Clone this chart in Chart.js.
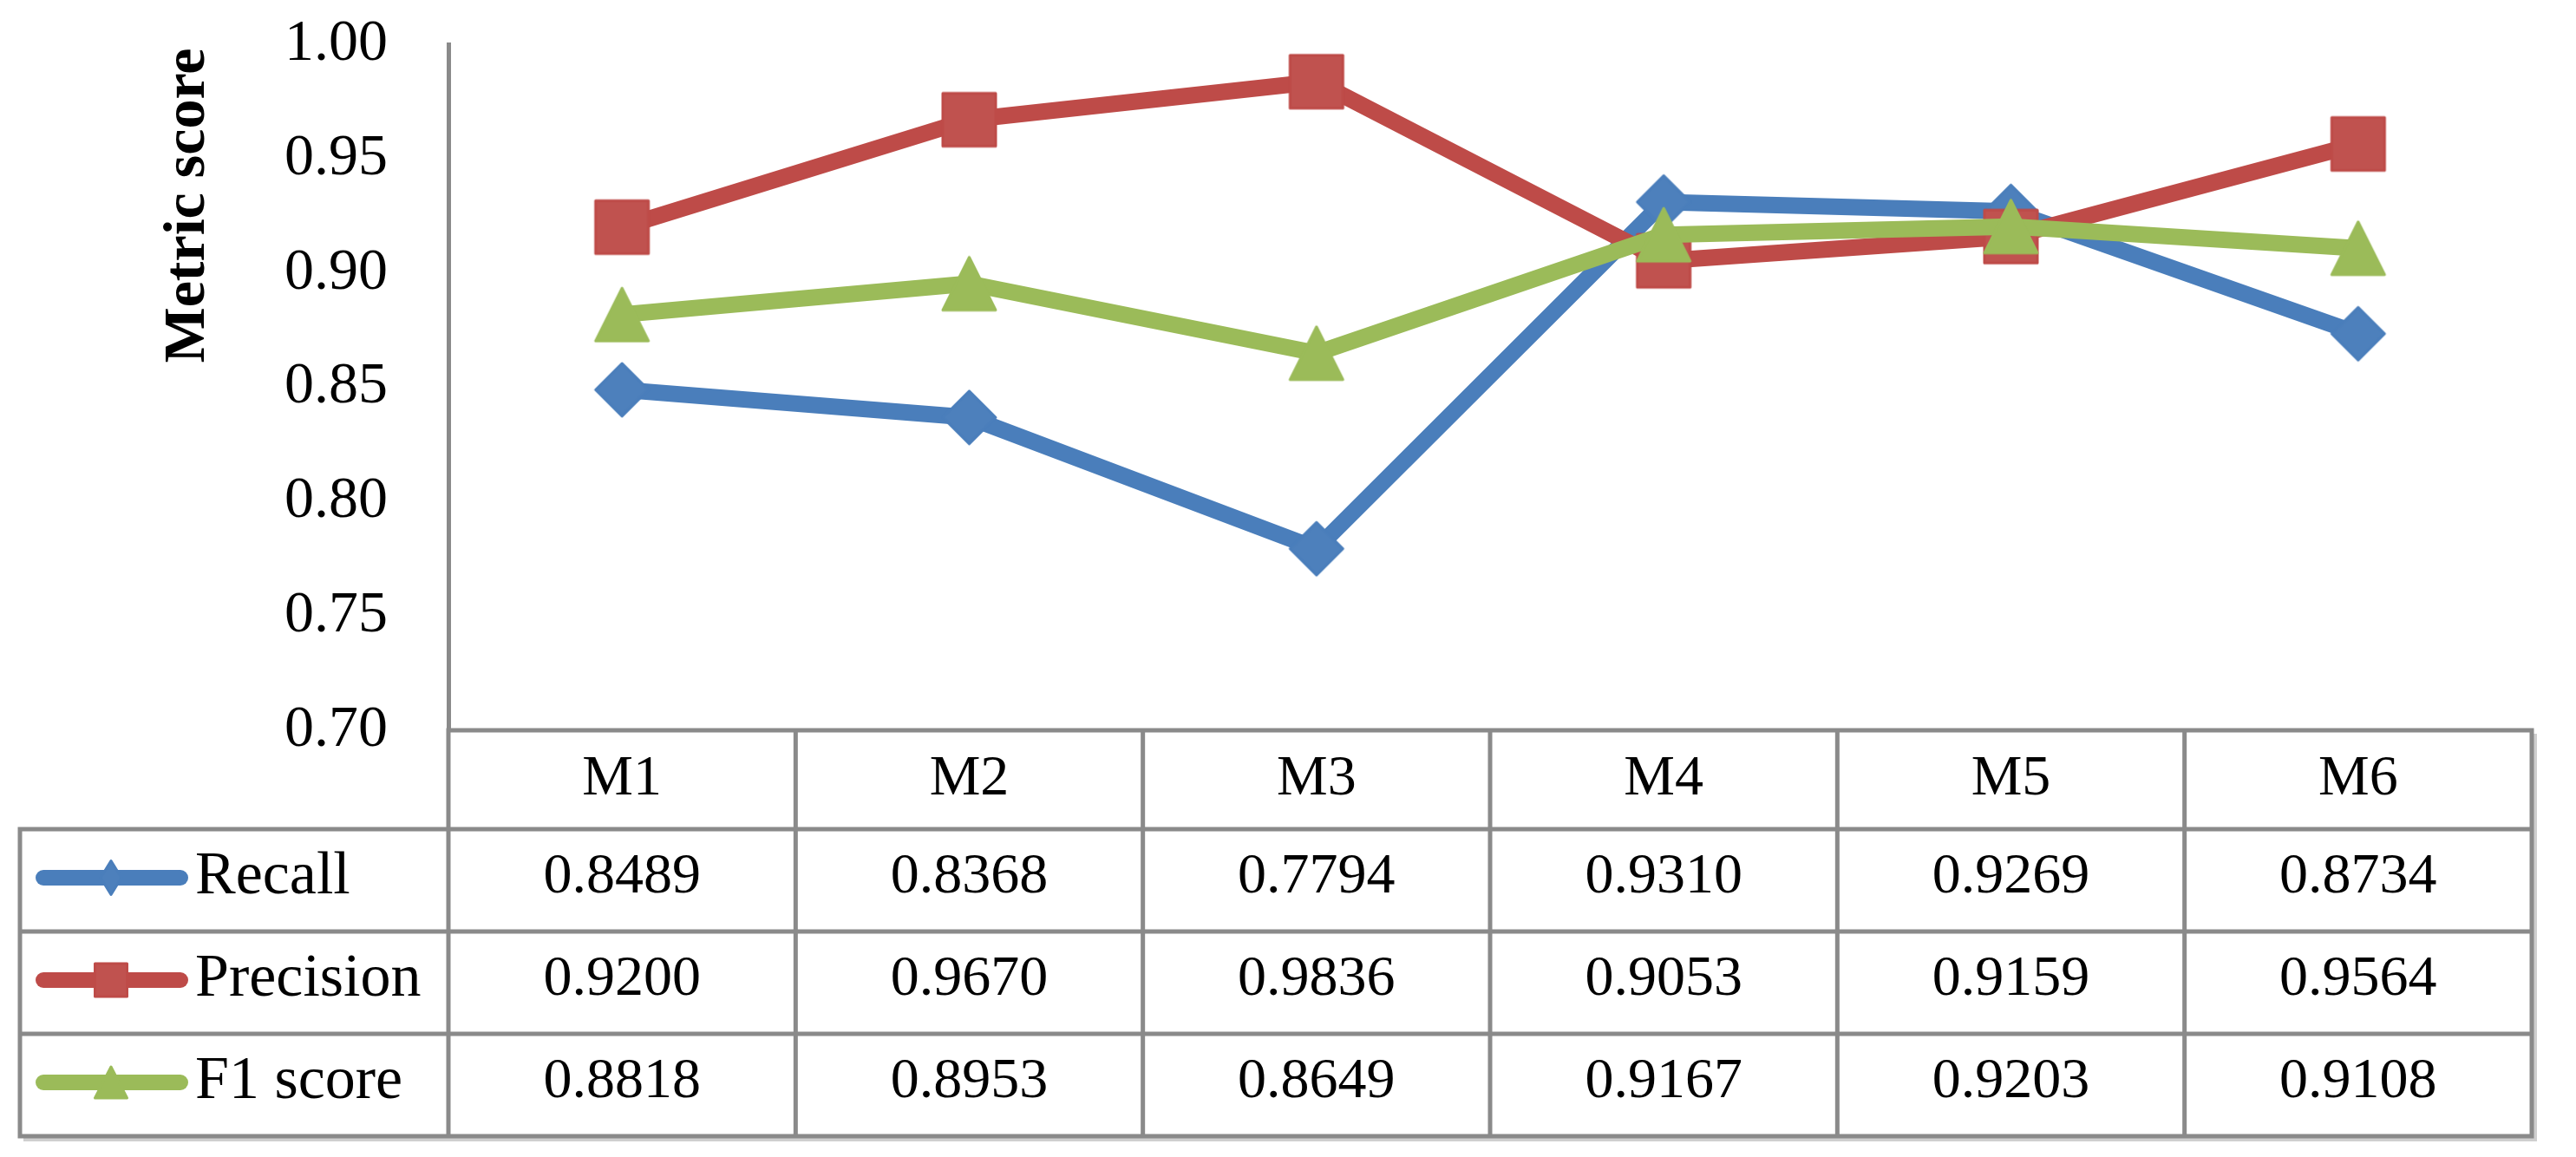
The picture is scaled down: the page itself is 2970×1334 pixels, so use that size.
<!DOCTYPE html>
<html>
<head>
<meta charset="utf-8">
<script src="https://cdn.jsdelivr.net/npm/chart.js@4.4.1/dist/chart.umd.min.js"></script>
<style>
  html, body { margin: 0; padding: 0; background: #fff; }
  #wrap { width: 2970px; height: 1334px; position: relative; }
</style>
</head>
<body>
<div id="wrap"><canvas id="chart"></canvas></div>
<script>
const categories = ['M1', 'M2', 'M3', 'M4', 'M5', 'M6'];
const seriesNames = ['Recall', 'Precision', 'F1 score'];
const recall = [0.8489, 0.8368, 0.7794, 0.9310, 0.9269, 0.8734];
const precision = [0.9200, 0.9670, 0.9836, 0.9053, 0.9159, 0.9564];
const f1Score = [0.8818, 0.8953, 0.8649, 0.9167, 0.9203, 0.9108];
const yMin = 0.70;
const yMax = 1.00;
const yStep = 0.05;
const yTitle = 'Metric score';

const seriesValues = [recall, precision, f1Score];
const colors = ['#4A7EBB', '#BE4B48', '#9BBB59'];
const markerFill = ['#4D80BC', '#C0524F', '#9BBB59'];
const markers = ['diamond', 'square', 'triangle'];
const FONT = "'Liberation Serif', 'Times New Roman', serif";
const GRID = '#8a8a8a';

// marker shapes (Excel style: triangle centred in its box)
function markerPath(ctx, kind, cx, cy, w, h) {
  ctx.beginPath();
  if (kind === 'diamond') {
    ctx.moveTo(cx, cy - h / 2);
    ctx.lineTo(cx + w / 2, cy);
    ctx.lineTo(cx, cy + h / 2);
    ctx.lineTo(cx - w / 2, cy);
  } else if (kind === 'triangle') {
    ctx.moveTo(cx, cy - h / 2);
    ctx.lineTo(cx + w / 2, cy + h / 2);
    ctx.lineTo(cx - w / 2, cy + h / 2);
  } else {
    ctx.rect(cx - w / 2, cy - h / 2, w, h);
  }
  ctx.closePath();
}

function drawMarker(ctx, kind, cx, cy, w, h, fill, stroke) {
  ctx.save();
  markerPath(ctx, kind, cx, cy, w, h);
  ctx.fillStyle = fill;
  ctx.fill();
  ctx.lineJoin = 'round';
  ctx.lineWidth = 3;
  ctx.strokeStyle = stroke;
  ctx.stroke();
  ctx.restore();
}

function markerImage(kind, w, h, fill, stroke) {
  const c = document.createElement('canvas');
  c.width = w + 6;
  c.height = h + 6;
  drawMarker(c.getContext('2d'), kind, c.width / 2, c.height / 2, w, h, fill, stroke);
  return c;
}

const pointSizes = { diamond: [61, 61], square: [61, 61], triangle: [61, 61] };
const legendSizes = { diamond: [24, 39], square: [37, 38], triangle: [37, 36] };

// y title + data table under the plot, columns taken from the x scale
const dataTable = {
  id: 'dataTable',
  afterDraw(chart) {
    const { ctx, chartArea, scales: { x } } = chart;
    const half = (x.getPixelForValue(1) - x.getPixelForValue(0)) / 2;
    const left = chartArea.left;
    const right = chartArea.right;
    const top = chartArea.bottom;
    const headH = 114;
    const rowH = 118;
    const tableLeft = 23;
    const rowsTop = top + headH;
    const bottom = rowsTop + rowH * seriesNames.length;

    ctx.save();

    // y axis title
    ctx.save();
    ctx.translate(217, 237);
    ctx.rotate(-Math.PI / 2);
    ctx.font = 'bold 68px ' + FONT;
    ctx.fillStyle = '#000';
    ctx.textAlign = 'center';
    ctx.textBaseline = 'middle';
    ctx.fillText(yTitle, 0, 0);
    ctx.restore();

    // faint drop shadow on right / bottom edge
    ctx.strokeStyle = '#cfcfcf';
    ctx.lineWidth = 4;
    ctx.beginPath();
    ctx.moveTo(right + 4, top + 4);
    ctx.lineTo(right + 4, bottom + 4);
    ctx.lineTo(tableLeft + 4, bottom + 4);
    ctx.stroke();

    // grid lines
    ctx.strokeStyle = GRID;
    ctx.lineWidth = 5;
    ctx.lineCap = 'square';
    ctx.beginPath();
    ctx.moveTo(left, top);
    ctx.lineTo(right, top);
    for (let r = 0; r <= seriesNames.length; r++) {
      const y = rowsTop + rowH * r;
      ctx.moveTo(tableLeft, y);
      ctx.lineTo(right, y);
    }
    ctx.moveTo(tableLeft, rowsTop);
    ctx.lineTo(tableLeft, bottom);
    for (let i = 0; i < categories.length; i++) {
      const xl = x.getPixelForValue(i) - half;
      ctx.moveTo(xl, top);
      ctx.lineTo(xl, bottom);
    }
    ctx.moveTo(right, top);
    ctx.lineTo(right, bottom);
    ctx.stroke();

    // header
    ctx.fillStyle = '#000';
    ctx.font = '66px ' + FONT;
    ctx.textAlign = 'center';
    ctx.textBaseline = 'middle';
    categories.forEach((c, i) => {
      ctx.fillText(c, x.getPixelForValue(i), top + headH / 2);
    });

    // rows
    seriesNames.forEach((name, r) => {
      const cy = rowsTop + rowH * (r + 0.5) - 3;
      // legend key
      ctx.save();
      ctx.strokeStyle = colors[r];
      ctx.lineWidth = 18;
      ctx.lineCap = 'round';
      ctx.beginPath();
      ctx.moveTo(tableLeft + 27, cy);
      ctx.lineTo(tableLeft + 185, cy);
      ctx.stroke();
      ctx.restore();
      const ls = legendSizes[markers[r]];
      drawMarker(ctx, markers[r], tableLeft + 105, cy, ls[0], ls[1], markerFill[r], colors[r]);

      ctx.fillStyle = '#000';
      ctx.textAlign = 'left';
      ctx.font = '70px ' + FONT;
      ctx.fillText(name, tableLeft + 202, cy);
      ctx.font = '66px ' + FONT;
      ctx.textAlign = 'center';
      seriesValues[r].forEach((v, i) => {
        ctx.fillText(v.toFixed(4), x.getPixelForValue(i), cy);
      });
    });

    ctx.restore();
  }
};

new Chart(document.getElementById('chart'), {
  type: 'line',
  data: {
    labels: categories,
    datasets: seriesValues.map((vals, i) => {
      const ps = pointSizes[markers[i]];
      return {
        label: seriesNames[i],
        data: vals,
        borderColor: colors[i],
        backgroundColor: colors[i],
        borderWidth: 19,
        borderJoinStyle: 'round',
        borderCapStyle: 'round',
        pointStyle: markerImage(markers[i], ps[0], ps[1], markerFill[i], colors[i]),
        pointRadius: 32,
        tension: 0,
        order: seriesValues.length - 1 - i
      };
    })
  },
  options: {
    responsive: true,
    maintainAspectRatio: false,
    animation: false,
    layout: { padding: { top: 43, right: 26, bottom: 492, left: 0 } },
    plugins: {
      legend: { display: false },
      tooltip: { enabled: false }
    },
    scales: {
      x: { type: 'category', offset: true, display: false },
      y: {
        min: yMin,
        max: yMax,
        afterFit(scale) {
          scale.width = 517;
          // keep the label gap from pushing the plot top down
          scale.paddingTop = 0;
          scale.paddingBottom = 0;
        },
        grid: { display: false, drawTicks: false },
        border: { display: true, color: GRID, width: 5 },
        ticks: {
          stepSize: yStep,
          padding: 70,
          color: '#000',
          font: { family: FONT, size: 68 },
          callback: v => v.toFixed(2)
        }
      }
    }
  },
  plugins: [dataTable]
});
</script>
</body>
</html>
